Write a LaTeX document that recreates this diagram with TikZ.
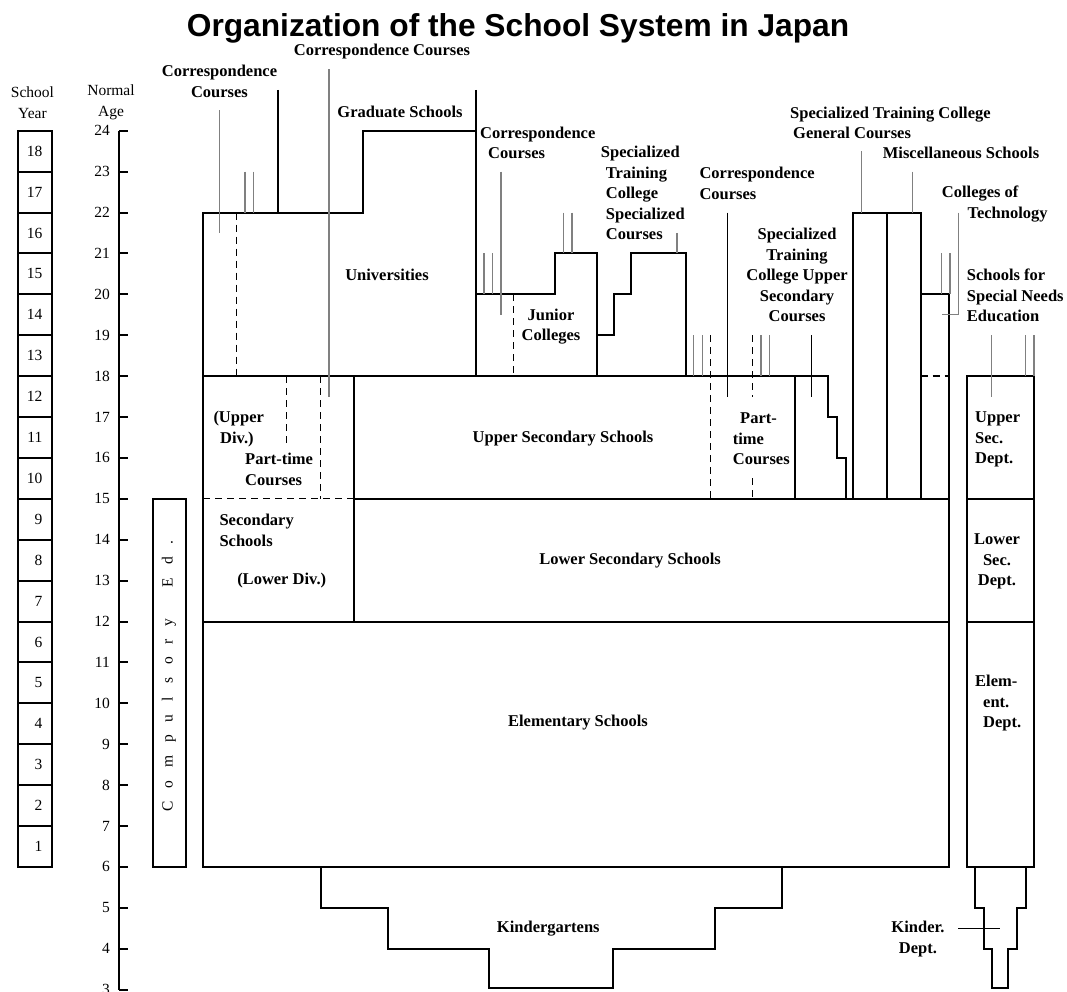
\documentclass[tikz,border=0pt]{standalone}
\usepackage{fontspec}
\setmainfont{Liberation Serif}
\setsansfont{Liberation Sans}
\tikzstyle{frame}=[
  draw=black,
  line width=2pt,
]
\tikzstyle{lead}=[
  draw=black!50,
  line width=1.4pt,
]
\tikzstyle{leadk}=[
  draw=black,
  line width=1.1pt,
]
\tikzstyle{div}=[
  draw=black,
  line width=1.3pt,
  dash pattern=on 7pt off 5pt,
]
\tikzstyle{lbl}=[
  font={\fontsize{16.5}{20.5}\selectfont\bfseries},
  inner sep=0pt,
]
\tikzstyle{num}=[
  font={\fontsize{15.5}{21}\selectfont},
  inner sep=0pt,
]
\tikzset{
  x=1pt,
  y=40.9pt,
}
\begin{document}
\begin{tikzpicture}
  \useasboundingbox (0,2.966) rectangle (1067,27.196);
  \node [font={\sffamily\bfseries\fontsize{31.7}{38}\selectfont}, anchor=base, inner sep=0pt]
    (title) at (518,26.315) {Organization of the School System in Japan};
  % scales
  \node [num, align=center] (year) at (32.5,24.69) {School\\Year};
  \node [num, align=center] (normal) at (111,24.69) {Normal\\Age};
  \draw [frame] (119,24) -- (119,3);
  \foreach \a in {3,...,24} {
    \draw [frame] (119,\a) -- (128,\a);
    \node [num, anchor=east] (age\a) at (110,\a) {\a};
  }
  \foreach \n in {1,...,18} {
    \draw [frame] (18,\n+5) rectangle (52,\n+6);
    \node [num, anchor=east] (yr\n) at (42.5,\n+5.5) {\n};
  }
  \draw [frame] (152.7,6) rectangle (186,15);
  \node [num, rotate=90] (comp) at (169,10.667)
    {\spaceskip=13pt C o m p u l s o r y\hspace{31pt}E d .};
  % schools
  \draw [frame] (203,6) rectangle (949.3,12);
  \draw [frame] (353.7,12) -- (353.7,18);
  \draw [frame] (353.7,15) -- (949.3,15);
  \draw [frame] (203,18) -- (828.3,18) -- (828.3,17) -- (837,17)
    -- (837,16) -- (845.7,16) -- (845.7,15);
  \draw [frame] (203,12) -- (203,22) -- (362.7,22) -- (362.7,24) -- (475.7,24);
  \draw [frame] (278.3,25) -- (278.3,22);
  \draw [frame] (475.7,25) -- (475.7,18);
  \draw [frame] (475.7,20) -- (555,20) -- (555,21) -- (597.3,21) -- (597.3,18);
  \draw [frame] (597.3,19) -- (614.3,19) -- (614.3,20) -- (631,20)
    -- (631,21) -- (685.7,21) -- (685.7,18);
  \draw [frame] (794.7,15) -- (794.7,18);
  \draw [frame] (853.3,15) rectangle (920.7,22);
  \draw [frame] (887,15) -- (887,22);
  \draw [frame] (920.7,20) -- (949.3,20) -- (949.3,12);
  \draw [frame] (967.3,6) rectangle (1034,18);
  \draw [frame] (967.3,12) -- (1034,12) (967.3,15) -- (1034,15);
  \draw [frame] (320.7,6) -- (320.7,5) -- (388.3,5) -- (388.3,4) -- (489,4)
    -- (489,3.03) -- (613.3,3.03) -- (613.3,4) -- (715,4) -- (715,5)
    -- (782.3,5) -- (782.3,6);
  \draw [frame] (975,6) -- (975,5) -- (984,5) -- (984,4) -- (992.3,4)
    -- (992.3,3.03) -- (1008.3,3.03) -- (1008.3,4) -- (1016.7,4)
    -- (1016.7,5) -- (1025.7,5) -- (1025.7,6);
  % divisions
  \foreach \x/\a/\b in {236.7/22/18, 286.7/18/16.27, 320.7/18/15, 513.3/20/18,
    710.7/19/15, 752.7/19/17.5, 752.7/15.5/15}
    \draw [div] (\x,\a) -- (\x,\b);
  \draw [div] (203,15) -- (353.7,15);
  \draw [div] (920.7,18) -- (949.3,18);
  % leaders
  \foreach \x/\a/\b in {219.3/24.5/21.5, 245/23/22, 253.3/23/22, 329/25.5/17.5,
    484/21/20, 492.7/21/20, 501/23/19.5, 563.7/22/21, 572/22/21, 677/21.5/21,
    693.7/19/18, 702.3/19/18, 761/19/18, 769.3/19/18, 861.7/23.5/22,
    912.3/23/22, 941.7/21/20, 950/21/20, 991.7/19/17.5, 1025.7/19/18, 1034/19/18}
    \draw [lead] (\x,\a) -- (\x,\b);
  \draw [lead] (958.3,22) -- (958.3,19.5) -- (941.7,19.5);
  \draw [leadk] (727.7,22) -- (727.7,17.5);
  \draw [leadk] (811.7,19) -- (811.7,17.5);
  \draw [leadk] (958.3,4.5) -- (1000,4.5);
  % labels
  \node [lbl, align=center] (corr1) at (219.5,25.20) {Correspondence\\Courses};
  \node [lbl] (corr2) at (382,25.93) {Correspondence Courses};
  \node [lbl] (grad) at (400,24.465) {Graduate Schools};
  \node [lbl, align=left, anchor=west] (corr3) at (480,23.704)
    {Correspondence\\\hspace*{8pt}Courses};
  \node [lbl, align=left, anchor=west] (stcs) at (600.7,22.468)
    {Specialized\\\hspace*{5pt}Training\\\hspace*{5pt}College\\\hspace*{5pt}Specialized\\\hspace*{5pt}Courses};
  \node [lbl, align=left, anchor=west] (corr4) at (699.3,22.714) {Correspondence\\Courses};
  \node [lbl, align=center] (stcu) at (797,20.468)
    {Specialized\\Training\\College Upper\\Secondary\\Courses};
  \node [lbl, align=left, anchor=west] (stcg) at (790,24.196)
    {Specialized Training College\\\hspace*{3pt}General Courses};
  \node [lbl] (misc) at (961,23.447) {Miscellaneous Schools};
  \node [lbl, align=left, anchor=west] (tech) at (941.7,22.213)
    {Colleges of\\\hspace*{25.6pt}Technology};
  \node [lbl, align=left, anchor=west] (sne) at (966.7,19.971)
    {Schools for\\Special Needs\\Education};
  \node [lbl] (univ) at (387,20.472) {Universities};
  \node [lbl, align=center] (junior) at (551,19.216) {Junior\\Colleges};
  \node [lbl, align=left, anchor=west] (upperdiv) at (213.3,16.703)
    {(Upper\\\hspace*{6.7pt}Div.)};
  \node [lbl, align=left, anchor=west] (ptl) at (245,15.725) {Part-time\\Courses};
  \node [lbl, align=left, anchor=west] (sec) at (219.3,14.229) {Secondary\\Schools};
  \node [lbl] (lowerdiv) at (281.7,12.99) {(Lower Div.)};
  \node [lbl] (usec) at (563,16.479) {Upper Secondary Schools};
  \node [lbl, align=left, anchor=west] (ptr) at (732.7,16.467)
    {\hspace*{7.3pt}Part-\\time\\Courses};
  \node [lbl] (lsec) at (630,13.479) {Lower Secondary Schools};
  \node [lbl] (elem) at (578,9.519) {Elementary Schools};
  \node [lbl] (kinder) at (548.3,4.499) {Kindergartens};
  \node [lbl, align=left, anchor=west] (usd) at (975,16.45) {Upper\\Sec.\\Dept.};
  \node [lbl, align=center] (lsd) at (997,13.462) {Lower\\Sec.\\Dept.};
  \node [lbl, align=left, anchor=west] (esd) at (975,10.006)
    {Elem-\\\hspace*{8pt}ent.\\\hspace*{8pt}Dept.};
  \node [lbl, align=center] (kd) at (918,4.233) {Kinder.\\Dept.};
\end{tikzpicture}
\end{document}
